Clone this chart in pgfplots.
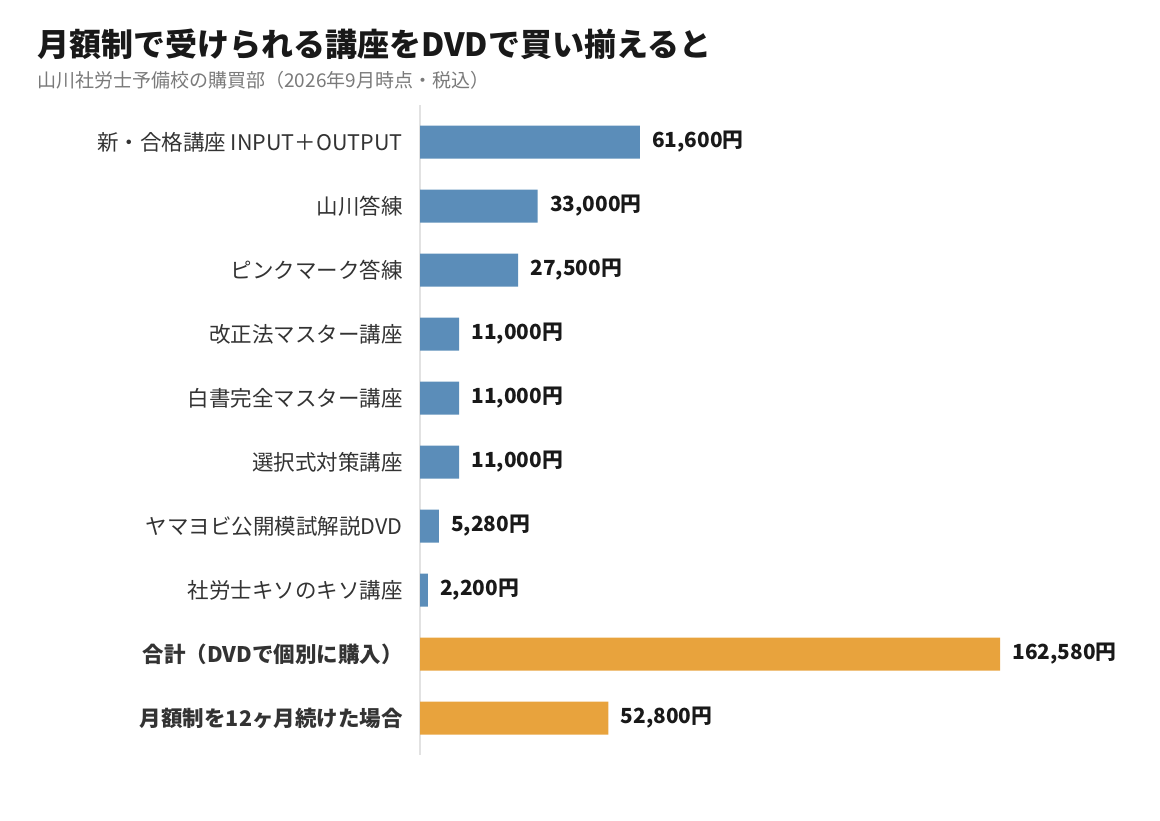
\documentclass[border=0pt]{standalone}
\usepackage{fontspec}
\setmainfont{Noto Sans CJK JP}
\usepackage{pgfplots}
\pgfplotsset{compat=1.18}
\definecolor{barblue}{HTML}{5B8DB9}
\definecolor{barorange}{HTML}{E8A33D}
\definecolor{labelgray}{HTML}{333333}
\definecolor{subgray}{HTML}{7A7A7A}
\definecolor{axisgray}{HTML}{E2E2E2}
\begin{document}
\begin{tikzpicture}[x=0.5pt,y=-0.5pt]
% 1 px of the reference = 0.5pt
\path[use as bounding box] (0,0) rectangle (1160,820);
\node[anchor=base west,inner sep=0pt,font=\fontsize{16pt}{18pt}\selectfont\bfseries,text=black!90]
  at (37,56) {月額制で受けられる講座をDVDで買い揃えると};
\node[anchor=base west,inner sep=0pt,font=\fontsize{9.5pt}{11pt}\selectfont,text=subgray]
  at (37,87) {山川社労士予備校の購買部（2026年9月時点・税込）};
\begin{axis}[
  at={(210pt,-52.5pt)}, anchor=north west,
  scale only axis, width=356.75pt, height=325pt,
  xmin=0, xmax=200000,
  ymin=-0.578, ymax=9.578, y dir=reverse,
  xbar, bar width=16.5pt, bar shift=0pt,
  axis x line=none,
  axis y line*=left,
  y axis line style={draw=axisgray, line width=0.6pt},
  major tick length=0pt,
  ytick={0,...,9},
  yticklabels={新・合格講座 INPUT＋OUTPUT, 山川答練, ピンクマーク答練,
    改正法マスター講座, 白書完全マスター講座, 選択式対策講座,
    ヤマヨビ公開模試解説DVD, 社労士キソのキソ講座,
    {\bfseries 合計（DVDで個別に購入）}, {\bfseries 月額制を12ヶ月続けた場合}},
  yticklabel style={font=\fontsize{10.75pt}{12pt}\selectfont, text=labelgray,
    anchor=east, inner sep=0pt, xshift=-8.5pt},
  point meta=x,
  nodes near coords={\pgfmathprintnumber[fixed,precision=0,1000 sep={,},assume math mode=true]{\pgfplotspointmeta}円},
  nodes near coords style={font=\fontsize{10.4pt}{12pt}\selectfont\bfseries, text=black!90,
    anchor=west, inner sep=0pt, xshift=6pt},
]
\addplot[draw=none, fill=barblue] coordinates {
  (61600,0) (33000,1) (27500,2) (11000,3) (11000,4)
  (11000,5) (5280,6) (2200,7)
};
\addplot[draw=none, fill=barorange] coordinates {
  (162580,8) (52800,9)
};
\end{axis}
\end{tikzpicture}
\end{document}
